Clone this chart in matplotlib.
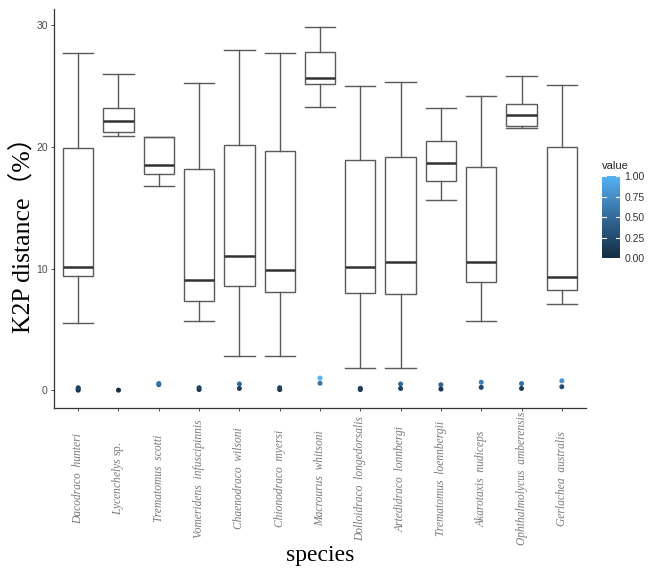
import matplotlib
matplotlib.use("Agg")
import matplotlib.pyplot as plt
from matplotlib.colors import LinearSegmentedColormap, Normalize
from matplotlib.cm import ScalarMappable
import numpy as np

species = ["Dacodraco  hunteri", "Lycenchelys sp.", "Trematomus  scotti",
           "Vomeridens  infuscipinnis", "Chaenodraco  wilsoni", "Chionodraco  myersi",
           "Macrourus  whitsoni", "Dolloidraco  longedorsalis", "Artedidraco  lonnbergi",
           "Trematomus  loennbergii", "Akarotaxis  nudiceps", "Ophthalmolycus  amberensis",
           "Gerlachea  australis"]

whis_lo = [5.5, 20.9, 16.8, 5.7, 2.8, 2.8, 23.3, 1.8, 1.8, 15.6, 5.7, 21.55, 7.1]
q1      = [9.4, 21.2, 17.8, 7.3, 8.6, 8.1, 25.2, 8.0, 7.9, 17.2, 8.9, 21.7, 8.2]
median  = [10.1, 22.1, 18.55, 9.1, 11.0, 9.9, 25.65, 10.15, 10.5, 18.7, 10.55, 22.6, 9.3]
q3      = [19.9, 23.2, 20.8, 18.2, 20.2, 19.65, 27.8, 18.9, 19.2, 20.5, 18.35, 23.55, 20.0]
whis_hi = [27.7, 26.0, 20.8, 25.3, 28.0, 27.7, 29.9, 25.0, 25.35, 23.2, 24.2, 25.85, 25.1]

# low-value points (outliers) per species
point_values = [
    [0.0, 0.1, 0.2],
    [0.0],
    [0.45, 0.55],
    [0.05, 0.2],
    [0.14, 0.51],
    [0.05, 0.2],
    [0.57, 1.0],
    [0.05, 0.15],
    [0.14, 0.51],
    [0.09, 0.45],
    [0.23, 0.65],
    [0.14, 0.54],
    [0.28, 0.77],
]

y_ticks = [0, 10, 20, 30]
cbar_ticks = [0.0, 0.25, 0.5, 0.75, 1.0]

plt.rcParams['mathtext.fontset'] = 'custom'
plt.rcParams['mathtext.it'] = 'Liberation Serif:italic'
plt.rcParams['mathtext.rm'] = 'Liberation Serif'

fig = plt.figure(figsize=(6.61, 5.69), dpi=100)
ax = fig.add_axes([54/661, 1-408.4/569, (586-54)/661, (408.4-8.6)/569])

pos = np.arange(1, len(species)+1)
stats = []
for i in range(len(species)):
    stats.append(dict(whislo=whis_lo[i], q1=q1[i], med=median[i], q3=q3[i],
                      whishi=whis_hi[i], fliers=[]))
line_c = '#5a5a5a'
ax.bxp(stats, positions=pos, widths=0.75, capwidths=0.75, patch_artist=True,
       showfliers=False,
       boxprops=dict(facecolor='white', edgecolor=line_c, linewidth=1.0),
       whiskerprops=dict(color=line_c, linewidth=1.0),
       capprops=dict(color=line_c, linewidth=1.0),
       medianprops=dict(color='#333333', linewidth=1.8))

cmap = LinearSegmentedColormap.from_list('gg', ['#132B43', '#336A98', '#56B1F7'])
norm = Normalize(vmin=0, vmax=1)
px, py = [], []
for i, vals in enumerate(point_values):
    for v in vals:
        px.append(pos[i])
        py.append(v)
ax.scatter(px, py, c=py, cmap=cmap, norm=norm, s=13, linewidths=0, zorder=3)

ax.set_xlim(0.4, len(species)+0.6)
ax.set_ylim(-1.5, 31.38)
ax.set_yticks(y_ticks)
ax.set_yticklabels([str(t) for t in y_ticks], fontsize=7.5, color='#4d4d4d',
                   family='Liberation Sans')
ax.set_xticks(pos)
labels = []
for s in species:
    if s.endswith('sp.'):
        labels.append(r'$\mathit{' + s.split()[0] + r'}$ sp.')
    else:
        labels.append(s)
ax.set_xticklabels(labels)
for lab, s in zip(ax.get_xticklabels(), species):
    lab.set_rotation(90)
    lab.set_va('center')
    lab.set_ha('center')
    lab.set_fontsize(8.3)
    lab.set_color('#7a7a7a')
    lab.set_family('Liberation Serif')
    lab.set_fontstyle('normal' if s.endswith('sp.') else 'italic')
ax.tick_params(axis='x', length=2.5, width=0.6, color='#333333', pad=48)
ax.tick_params(axis='y', length=2.5, width=0.6, color='#333333', pad=2)

for sp in ['top', 'right']:
    ax.spines[sp].set_visible(False)
for sp in ['left', 'bottom']:
    ax.spines[sp].set_color('#333333')
    ax.spines[sp].set_linewidth(0.9)

ax.set_ylabel('K2P distance（%）', fontsize=18.5, family=['Liberation Serif', 'Noto Sans CJK SC'])
ax.yaxis.set_label_coords(-0.058, 0.45)
ax.yaxis.label.set_va('center')
ax.set_xlabel('species', fontsize=17, family='Liberation Serif')
ax.xaxis.label.set_va('baseline')
ax.xaxis.set_label_coords(0.5, -(561 - 408.4) / 399.8)

cax = fig.add_axes([602/661, 1-258/569, 18/661, 82/569])
cb = fig.colorbar(ScalarMappable(norm=norm, cmap=cmap), cax=cax, ticks=cbar_ticks)
cb.outline.set_visible(False)
cb.ax.set_yticklabels(['%.2f' % t for t in cbar_ticks], fontsize=7.5, color='#333333',
                      family='Liberation Sans')
cb.ax.tick_params(length=0, pad=3)
for t in cbar_ticks:
    cax.plot([0, 0.2], [t, t], color='white', lw=0.8, transform=cax.get_yaxis_transform())
    cax.plot([0.8, 1.0], [t, t], color='white', lw=0.8, transform=cax.get_yaxis_transform())
cax.set_title('value', fontsize=8, loc='left', color='#222222', family='Liberation Sans', pad=5)

fig.savefig('out.png', dpi=100)
